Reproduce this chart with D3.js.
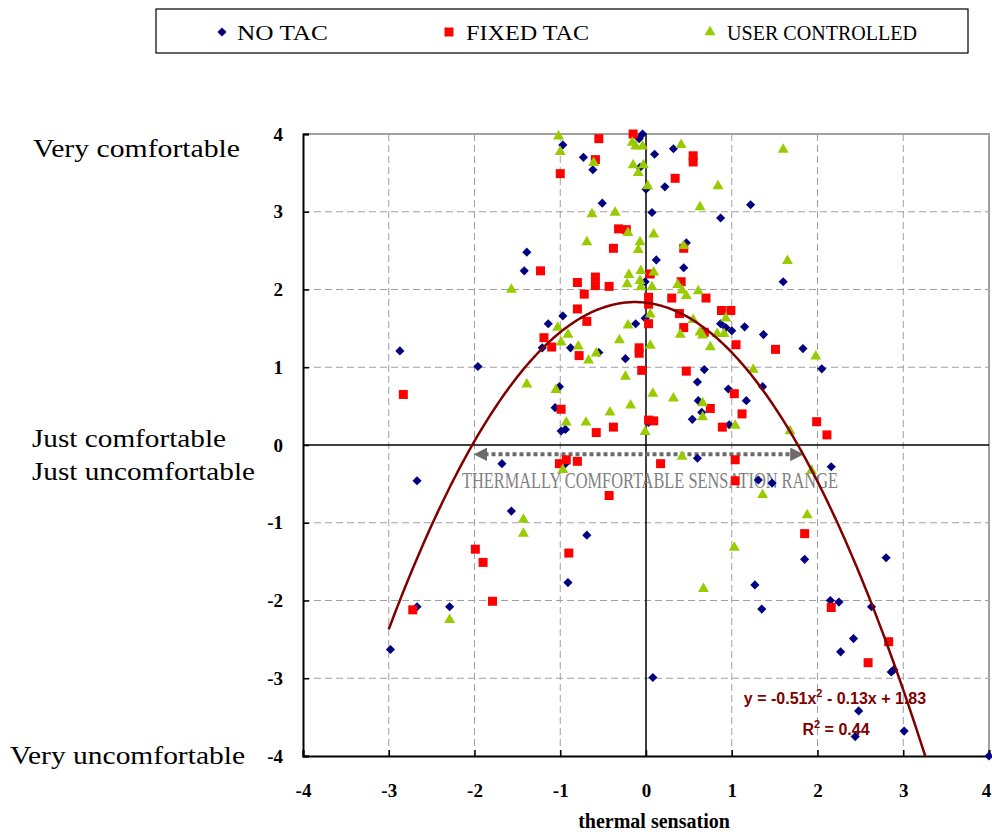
<!DOCTYPE html>
<html>
<head>
<meta charset="utf-8">
<script src="https://cdn.jsdelivr.net/npm/d3@7"></script>
<style>
  body { margin: 0; background: #fff; }
  svg { display: block; font-family: "Liberation Serif", "Times New Roman", serif; }
</style>
</head>
<body>
<div id="chart"></div>
<script>
//Data: [thermal sensation, thermal comfort]
const noTac = [
  [-0.04,4.0],[-0.08,3.94],[-0.97,3.86],[-0.73,3.70],[-0.62,3.54],[-0.07,3.57],[0.0,3.29],[-0.51,3.11],
  [0.10,3.74],[0.32,3.81],[0.22,3.32],[0.07,2.99],[0.87,2.92],[1.22,3.09],[0.47,2.60],[0.12,2.38],
  [0.44,2.28],[1.60,2.10],[-1.39,2.48],[-1.42,2.24],[-0.01,2.10],[-0.97,1.66],[-1.14,1.56],[-0.12,1.56],
  [-0.01,1.63],[-1.21,1.25],[-0.88,1.25],[-0.55,1.19],[-0.24,1.11],[-2.87,1.21],[-1.96,1.01],[-1.01,0.75],
  [-1.06,0.48],[-0.99,0.18],[-0.94,0.20],[0.03,0.29],[0.87,1.56],[0.93,1.51],[1.0,1.47],[1.15,1.52],
  [1.37,1.42],[1.83,1.24],[2.05,0.98],[0.68,0.97],[0.60,0.81],[0.96,0.72],[1.36,0.75],[1.17,0.57],
  [0.61,0.57],[0.65,0.42],[0.54,0.33],[0.97,0.26],
  [-2.67,-0.46],[-1.68,-0.24],[-0.94,-0.24],[0.60,-0.17],[1.31,-0.45],[1.47,-0.49],[2.16,-0.28],
  [-1.57,-0.85],[-0.69,-1.16],[-0.91,-1.77],[-2.67,-2.08],[-2.29,-2.08],[-2.98,-2.63],[1.85,-1.47],
  [1.27,-1.80],[1.35,-2.11],[2.80,-1.45],[2.15,-2.0],[2.25,-2.02],[2.63,-2.08],[2.42,-2.49],[2.27,-2.66],
  [2.83,-2.53],[2.86,-2.92],[2.89,-2.89],[0.08,-2.99],[2.48,-3.42],[2.44,-3.75],[3.01,-3.68],[4.0,-4.0]
];
const fixedTac = [
  [-0.15,4.0],[-0.55,3.94],[-0.59,3.67],[-1.0,3.49],[-0.32,2.78],[-0.23,2.77],[-0.38,2.53],[-1.23,2.24],
  [-0.80,2.09],[-0.59,2.16],[-0.59,2.05],[-0.43,2.04],[-0.72,1.94],[0.05,2.20],[-0.80,1.75],[-0.69,1.59],
  [0.03,1.90],[0.03,1.81],[0.03,1.56],[-1.19,1.38],[-1.10,1.26],[-0.78,1.15],[-0.08,1.25],[-0.08,1.18],
  [-0.05,0.96],[-2.83,0.65],[-0.99,0.46],[-0.38,0.23],[-0.58,0.16],[0.03,0.32],[0.09,0.31],
  [0.55,3.72],[0.55,3.64],[0.34,3.43],[0.44,2.53],[0.41,2.10],[0.30,1.89],[0.70,1.89],[0.88,1.73],
  [0.99,1.73],[0.39,1.69],[0.44,1.51],[0.68,1.45],[1.05,1.29],[1.51,1.23],[0.47,0.95],[1.03,0.66],
  [0.75,0.47],[1.12,0.40],[0.89,0.23],[1.99,0.30],[2.11,0.13],
  [-1.01,-0.24],[-0.93,-0.19],[-0.80,-0.21],[-0.43,-0.65],[0.17,-0.24],[1.04,-0.19],[1.04,-0.46],
  [-1.99,-1.34],[-1.90,-1.51],[-0.90,-1.39],[-1.79,-2.01],[-2.72,-2.12],[1.85,-1.14],[2.16,-2.09],
  [2.83,-2.53],[2.59,-2.80]
];
const userControlled = [
  [-1.02,3.97],[-1.0,3.77],[-0.61,3.63],[-0.16,3.89],[-0.12,3.84],[-0.04,3.84],[-0.15,3.60],[-0.09,3.50],
  [-0.03,3.60],[0.02,3.33],[-0.63,2.97],[-0.36,2.99],[-0.21,2.73],[-0.69,2.61],[-0.07,2.61],[-0.09,2.51],
  [0.09,2.71],[-0.20,2.19],[-0.06,2.24],[0.09,2.22],[-0.22,2.07],[-0.07,2.11],[-0.06,2.03],[0.07,2.03],
  [-1.57,2.0],[-1.03,1.51],[-0.91,1.42],[-0.99,1.32],[-0.79,1.27],[-0.67,1.09],[-0.58,1.18],[-0.21,1.54],
  [-0.31,1.35],[0.05,1.68],[0.05,1.28],[-0.24,0.88],[-1.39,0.78],[-1.05,0.71],[0.08,0.66],[-0.18,0.51],
  [-0.42,0.42],[-0.93,0.29],[-0.70,0.29],[-0.01,0.17],
  [0.41,3.86],[1.60,3.80],[0.84,3.33],[0.63,3.06],[0.44,2.56],[1.65,2.37],[0.37,2.06],[0.42,1.99],
  [0.47,1.92],[0.61,1.98],[0.55,1.61],[0.93,1.63],[0.40,1.42],[0.63,1.45],[0.66,1.41],[0.83,1.43],
  [0.91,1.43],[0.75,1.26],[1.98,1.14],[1.25,0.97],[0.32,0.60],[0.66,0.54],[0.66,0.36],[1.04,0.25],
  [1.68,0.18],
  [-0.97,-0.32],[0.42,-0.15],[1.36,-0.64],[1.93,-0.33],[-1.43,-0.96],[-1.43,-1.14],[-2.29,-2.25],
  [1.88,-0.90],[1.03,-1.32],[0.67,-1.85]
];

//Polynomial trend line: y = a*x^2 + b*x + c
const trendCoef = [-0.51, -0.13, 1.83];
const trendRange = [-3, 3.256];
const trendLabel = "y = -0.51x";
const trendLabelRest = " - 0.13x + 1.83";
const r2Value = "0.44";

const seriesNames = ["NO TAC", "FIXED TAC", "USER CONTROLLED"];
const ticks = [-4, -3, -2, -1, 0, 1, 2, 3, 4];
const comfortLabels = ["Very comfortable", "Just comfortable", "Just uncomfortable", "Very uncomfortable"];
const rangeEnds = [-2, 1.83];
const rangeText = "THERMALLY COMFORTABLE SENSATION RANGE";

//Size
const W = 992, H = 834;
const plot = { left: 303, right: 989, top: 134, bottom: 756 };

const svg = d3.select("#chart").append("svg")
  .attr("width", W)
  .attr("height", H);

//Scales
const x = d3.scaleLinear().domain([-4, 4]).range([plot.left, plot.right]);
const y = d3.scaleLinear().domain([-4, 4]).range([plot.bottom, plot.top]);

//Grid
const inner = ticks.filter(t => t > -4 && t < 4 && t !== 0);
const grid = svg.append("g").attr("class", "grid");
grid.selectAll(".vg").data(inner)
  .enter().append("line")
  .attr("x1", d => x(d)).attr("x2", d => x(d))
  .attr("y1", plot.top).attr("y2", plot.bottom)
  .attr("stroke", "#a0a0a0").attr("stroke-dasharray", "7,4");
grid.selectAll(".hg").data(inner)
  .enter().append("line")
  .attr("y1", d => y(d)).attr("y2", d => y(d))
  .attr("x1", plot.left).attr("x2", plot.right)
  .attr("stroke", "#a0a0a0").attr("stroke-dasharray", "7,4");

//Plot border (top and right)
svg.append("path")
  .attr("d", `M${plot.left},${plot.top}H${plot.right}V${plot.bottom}`)
  .attr("fill", "none")
  .attr("stroke", "#a0a0a0")
  .attr("stroke-width", 2);

//Axes through the origin
svg.append("line")
  .attr("x1", plot.left).attr("x2", plot.right)
  .attr("y1", y(0)).attr("y2", y(0))
  .attr("stroke", "#000").attr("stroke-width", 1.5);
svg.append("line")
  .attr("x1", x(0)).attr("x2", x(0))
  .attr("y1", plot.top).attr("y2", plot.bottom)
  .attr("stroke", "#000").attr("stroke-width", 1.5);

//Bottom and left axes
const fmt = d => String(d);
const xAxis = d3.axisBottom(x).tickValues(ticks).tickFormat(fmt).tickSize(-6).tickPadding(28);
const yAxis = d3.axisLeft(y).tickValues(ticks).tickFormat(fmt).tickSize(-6).tickPadding(20);

const gx = svg.append("g")
  .attr("transform", "translate(0," + plot.bottom + ")")
  .call(xAxis);
const gy = svg.append("g")
  .attr("transform", "translate(" + plot.left + ",0)")
  .call(yAxis);
[gx, gy].forEach(g => {
  g.attr("font-family", "Liberation Serif, Times New Roman, serif")
   .attr("font-size", 19)
   .attr("font-weight", "bold");
  g.select(".domain").attr("stroke", "#000").attr("stroke-width", 2);
  g.selectAll(".tick line").attr("stroke", "#000").attr("stroke-width", 1.5);
  g.selectAll(".tick text").attr("fill", "#000");
});
//keep the last label inside the page
gx.selectAll(".tick text").filter(d => d === 4).attr("dx", -3);

//Axis title
svg.append("text")
  .attr("x", 654)
  .attr("y", 828)
  .attr("text-anchor", "middle")
  .attr("font-size", 20)
  .attr("font-weight", "bold")
  .text("thermal sensation");

//Comfort labels
const comfortPos = [
  { x: 33, y: 157, w: 207 },
  { x: 32, y: 447, w: 194 },
  { x: 32, y: 480, w: 223 },
  { x: 10, y: 764, w: 235 }
];
svg.selectAll(".comfort").data(comfortLabels)
  .enter().append("text")
  .attr("class", "comfort")
  .attr("x", (d, i) => comfortPos[i].x)
  .attr("y", (d, i) => comfortPos[i].y)
  .attr("font-size", 26)
  .attr("textLength", (d, i) => comfortPos[i].w)
  .attr("lengthAdjust", "spacingAndGlyphs")
  .text(d => d);

//Comfort range arrow
const defs = svg.append("defs");
defs.append("marker")
  .attr("id", "arrowHead")
  .attr("viewBox", "0 0 10 10")
  .attr("refX", 2).attr("refY", 5)
  .attr("markerWidth", 3.4).attr("markerHeight", 3.4)
  .attr("orient", "auto-start-reverse")
  .append("path")
  .attr("d", "M0,0L10,5L0,10Z")
  .attr("fill", "#6b6b6b");

svg.append("line")
  .attr("x1", x(rangeEnds[0]) + 10).attr("x2", x(rangeEnds[1]) - 10)
  .attr("y1", y(-0.12)).attr("y2", y(-0.12))
  .attr("stroke", "#6b6b6b")
  .attr("stroke-width", 4)
  .attr("stroke-dasharray", "4,3")
  .attr("marker-start", "url(#arrowHead)")
  .attr("marker-end", "url(#arrowHead)");

svg.append("text")
  .attr("x", 462)
  .attr("y", 488)
  .attr("font-size", 24)
  .attr("fill", "#808080")
  .attr("textLength", 376)
  .attr("lengthAdjust", "spacingAndGlyphs")
  .text(rangeText);

//Markers
const diamond = d3.symbol(d3.symbolSquare, 42);
const square = d3.symbol(d3.symbolSquare, 81);
const triangle = d3.symbol(d3.symbolTriangle, 52);

svg.append("g").selectAll("path").data(noTac)
  .enter().append("path")
  .attr("d", diamond)
  .attr("transform", d => "translate(" + x(d[0]) + "," + y(d[1]) + ") rotate(45)")
  .attr("fill", "#000080");

svg.append("g").selectAll("path").data(fixedTac)
  .enter().append("path")
  .attr("d", square)
  .attr("transform", d => "translate(" + x(d[0]) + "," + y(d[1]) + ")")
  .attr("fill", "#ff0000");

svg.append("g").selectAll("path").data(userControlled)
  .enter().append("path")
  .attr("d", triangle)
  .attr("transform", d => "translate(" + x(d[0]) + "," + y(d[1]) + ")")
  .attr("fill", "#99cc00");

//Trend line
const trendX = d3.range(trendRange[0], trendRange[1], 0.02).concat([trendRange[1]]);
const trendLine = d3.line()
  .x(d => x(d))
  .y(d => y(trendCoef[0] * d * d + trendCoef[1] * d + trendCoef[2]));
svg.append("path")
  .datum(trendX)
  .attr("d", trendLine)
  .attr("fill", "none")
  .attr("stroke", "#800000")
  .attr("stroke-width", 2.5);

//Equation
const eq = svg.append("text")
  .attr("x", 835)
  .attr("y", 704)
  .attr("text-anchor", "middle")
  .attr("font-family", "Liberation Sans, Arial, sans-serif")
  .attr("font-size", 16)
  .attr("font-weight", "bold")
  .attr("fill", "#800000");
eq.append("tspan").text(trendLabel);
eq.append("tspan").attr("dy", -7).attr("font-size", 11).text("2");
eq.append("tspan").attr("dy", 7).text(trendLabelRest);

const r2 = svg.append("text")
  .attr("x", 836)
  .attr("y", 735)
  .attr("text-anchor", "middle")
  .attr("font-family", "Liberation Sans, Arial, sans-serif")
  .attr("font-size", 16)
  .attr("font-weight", "bold")
  .attr("fill", "#800000");
r2.append("tspan").text("R");
r2.append("tspan").attr("dy", -7).attr("font-size", 11).text("2");
r2.append("tspan").attr("dy", 7).text(" = " + r2Value);

//Legend
const legend = svg.append("g");
legend.append("rect")
  .attr("x", 156).attr("y", 9)
  .attr("width", 812).attr("height", 44)
  .attr("fill", "#fff")
  .attr("stroke", "#000")
  .attr("stroke-width", 1.2);
const legendPos = [
  { mx: 222, tx: 237, w: 91 },
  { mx: 449, tx: 466, w: 123 },
  { mx: 710, tx: 727, w: 190 }
];
const legendSymbols = [
  { s: diamond, fill: "#000080", rot: 45 },
  { s: square, fill: "#ff0000", rot: 0 },
  { s: triangle, fill: "#99cc00", rot: 0 }
];
seriesNames.forEach((name, i) => {
  legend.append("path")
    .attr("d", legendSymbols[i].s)
    .attr("transform", "translate(" + legendPos[i].mx + ",32) rotate(" + legendSymbols[i].rot + ")")
    .attr("fill", legendSymbols[i].fill);
  legend.append("text")
    .attr("x", legendPos[i].tx)
    .attr("y", 40)
    .attr("font-size", 21)
    .attr("textLength", legendPos[i].w)
    .attr("lengthAdjust", "spacingAndGlyphs")
    .text(name);
});
</script>
</body>
</html>
